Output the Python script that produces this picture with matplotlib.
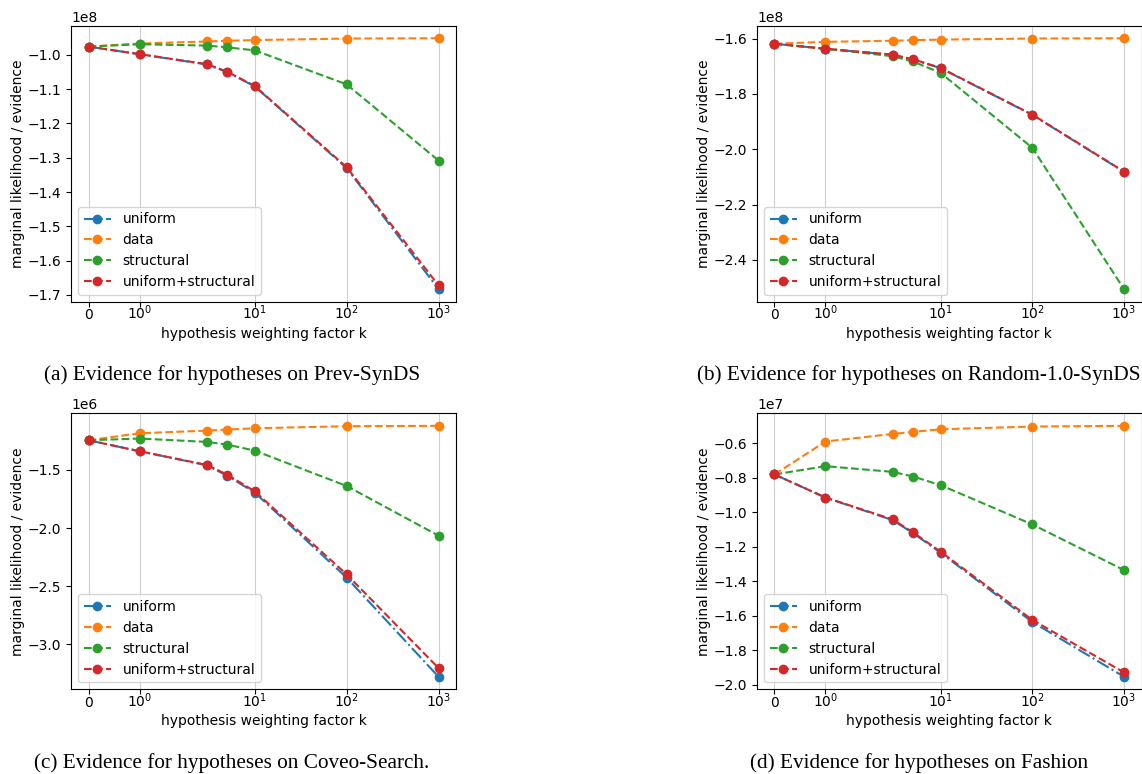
import matplotlib
matplotlib.use("Agg")
import matplotlib.pyplot as plt

k_values = [0, 1, 3, 5, 10, 100, 1000]
k_ticks = [0, 1, 10, 100, 1000]
series_names = ["uniform", "data", "structural", "uniform+structural"]

# (a) Prev-SynDS, values in 1e8
a_uniform = [-0.976, -0.998, -1.028, -1.050, -1.092, -1.330, -1.683]
a_data = [-0.976, -0.967, -0.961, -0.959, -0.957, -0.9525, -0.9516]
a_structural = [-0.976, -0.969, -0.973, -0.978, -0.987, -1.086, -1.308]
a_unistruct = [-0.976, -0.998, -1.027, -1.049, -1.091, -1.3275, -1.672]

# (b) Random-1.0-SynDS, values in 1e8
b_uniform = [-1.619, -1.637, -1.659, -1.676, -1.707, -1.876, -2.082]
b_data = [-1.619, -1.612, -1.608, -1.606, -1.604, -1.600, -1.599]
b_structural = [-1.619, -1.637, -1.664, -1.683, -1.724, -1.995, -2.506]
b_unistruct = [-1.619, -1.637, -1.658, -1.675, -1.706, -1.875, -2.081]

# (c) Coveo-Search, values in 1e6
c_uniform = [-1.245, -1.339, -1.460, -1.549, -1.695, -2.426, -3.278]
c_data = [-1.245, -1.185, -1.162, -1.153, -1.142, -1.124, -1.121]
c_structural = [-1.245, -1.230, -1.259, -1.282, -1.334, -1.638, -2.065]
c_unistruct = [-1.245, -1.339, -1.457, -1.540, -1.684, -2.398, -3.203]

# (d) Fashion, values in 1e7
d_uniform = [-0.781, -0.915, -1.046, -1.121, -1.235, -1.637, -1.955]
d_data = [-0.781, -0.590, -0.546, -0.534, -0.519, -0.503, -0.499]
d_structural = [-0.781, -0.733, -0.766, -0.793, -0.843, -1.071, -1.336]
d_unistruct = [-0.781, -0.915, -1.042, -1.117, -1.229, -1.625, -1.930]

panels = [
    ("(a) Evidence for hypotheses on Prev-SynDS", 1e8,
     [a_uniform, a_data, a_structural, a_unistruct]),
    ("(b) Evidence for hypotheses on Random-1.0-SynDS", 1e8,
     [b_uniform, b_data, b_structural, b_unistruct]),
    ("(c) Evidence for hypotheses on Coveo-Search.", 1e6,
     [c_uniform, c_data, c_structural, c_unistruct]),
    ("(d) Evidence for hypotheses on Fashion", 1e7,
     [d_uniform, d_data, d_structural, d_unistruct]),
]

W, H = 1142, 774
fig = plt.figure(figsize=(W / 100, H / 100), dpi=100)

# axes boxes in pixels: left, top, right, bottom
boxes = [
    (71, 25.7, 456, 301.7),
    (757, 25.7, 1141.5, 301.7),
    (71, 413.3, 456, 689.3),
    (757, 413.3, 1141.5, 689.3),
]
caption_pos = [(232, 375), (919, 375), (232, 763), (919, 763)]

styles = [("C0", "-."), ("C1", "--"), ("C2", "--"), ("C3", "--")]

for (title, scale, data), (l, t, r, b), (cx, cy) in zip(panels, boxes, caption_pos):
    ax = fig.add_axes([l / W, 1 - b / H, (r - l) / W, (b - t) / H])
    for name, vals, (col, ls) in zip(series_names, data, styles):
        ax.plot(k_values, [v * scale for v in vals], marker="o", color=col,
                linestyle=ls, label=name)
    ax.set_xscale("symlog", linthresh=2)
    ax.set_xticks(k_ticks)
    ax.tick_params(axis="x", pad=8.9)
    for lab in ax.get_xticklabels():
        lab.set_verticalalignment("baseline")
    ax.grid(axis="x", color="#b0b0b0", alpha=0.6, linewidth=0.8)
    ax.set_xlabel("hypothesis weighting factor k", fontsize=10)
    ax.set_ylabel("marginal likelihood / evidence", fontsize=10)
    ax.xaxis.set_label_coords(0.5, -0.09)
    ax.yaxis.set_label_coords(-0.12, 0.5)
    ax.legend(loc="lower left", fontsize=10)
    fig.text(cx / W, 1 - cy / H, title, ha="center", va="center",
             fontsize=15.3, family="Liberation Serif")

fig.savefig("out.png", dpi=100)
